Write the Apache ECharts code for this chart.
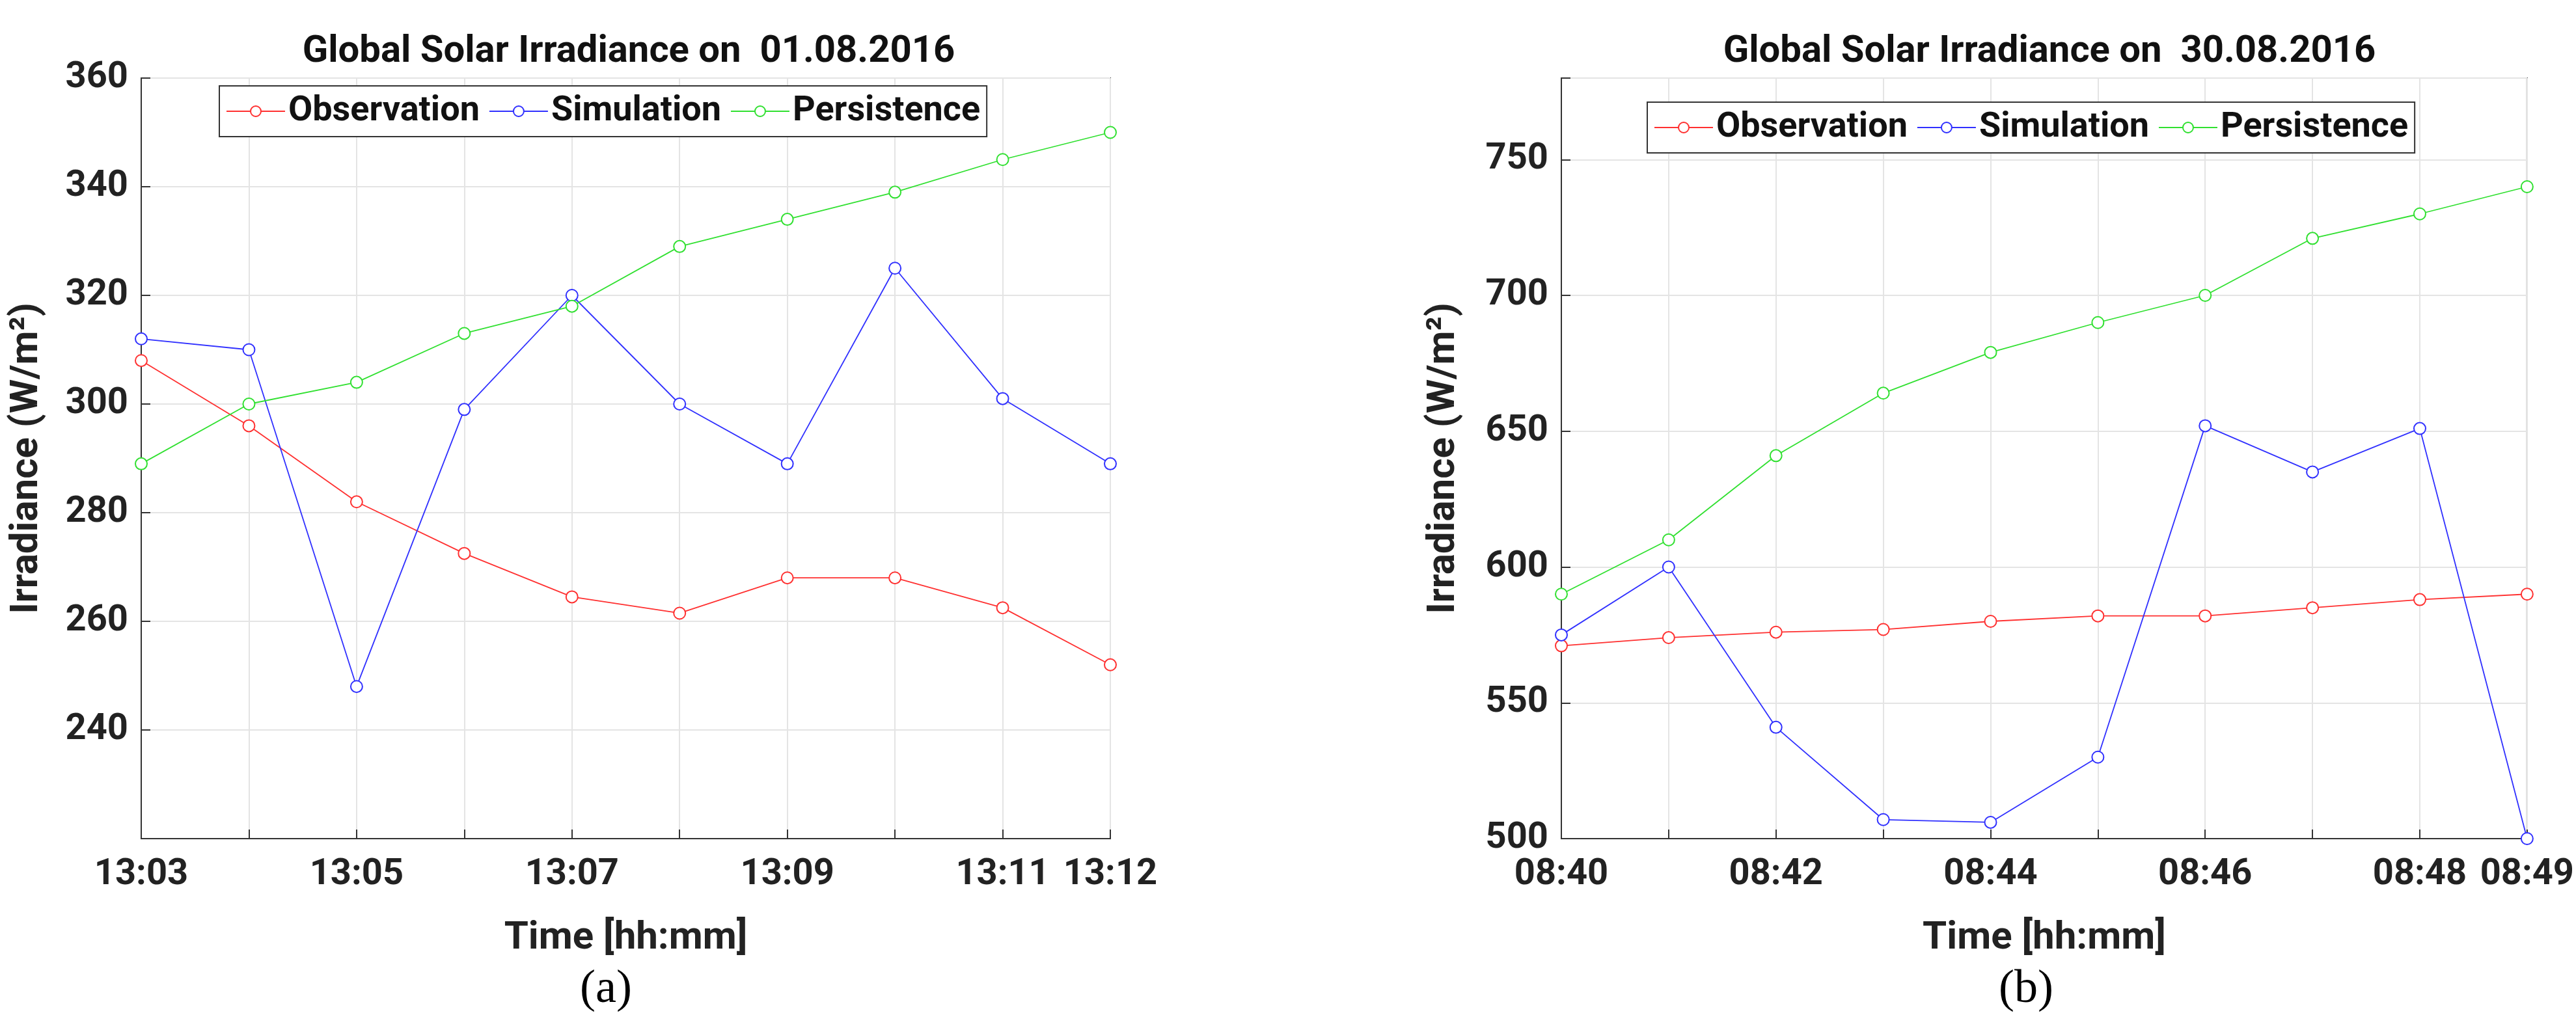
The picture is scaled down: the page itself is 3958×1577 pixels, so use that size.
<!DOCTYPE html>
<html>
<head>
<meta charset="utf-8">
<script src="https://cdn.jsdelivr.net/npm/echarts@6/dist/echarts.min.js"></script>
<style>html,body{margin:0;padding:0;background:#fff}#main{width:3958px;height:1577px}</style>
</head>
<body>
<div id="main"></div>
<script>
// time labels
var timesA = ["13:03","13:04","13:05","13:06","13:07","13:08","13:09","13:10","13:11","13:12"];
var timesB = ["08:40","08:41","08:42","08:43","08:44","08:45","08:46","08:47","08:48","08:49"];
// panel (a) 01.08.2016
var obsA = [308, 296, 282, 272.5, 264.5, 261.5, 268, 268, 262.5, 252];
var simA = [312, 310, 248, 299, 320, 300, 289, 325, 301, 289];
var perA = [289, 300, 304, 313, 318, 329, 334, 339, 345, 350];
// panel (b) 30.08.2016
var obsB = [571, 574, 576, 577, 580, 582, 582, 585, 588, 590];
var simB = [575, 600, 541, 507, 506, 530, 652, 635, 651, 500];
var perB = [590, 610, 641, 664, 679, 690, 700, 721, 730, 740];

var colors = ['#ff3030', '#3030ff', '#30e030'];
var names = ['Observation', 'Simulation', 'Persistence'];
var shownIdx = [0, 2, 4, 6, 8, 9];
var font = 'Roboto, "Liberation Sans", sans-serif';

function xAxis(idx, data){
	return {
		type: 'category', gridIndex: idx, data: data, boundaryGap: false,
		name: 'Time [hh:mm]', nameLocation: 'middle', nameGap: 124,
		nameTextStyle: {fontSize: 60, fontWeight: 'bold', color: '#222', fontFamily: font},
		axisLine: {lineStyle: {color: '#333', width: 2}},
		axisTick: {show: true, inside: true, length: 14, interval: 0, lineStyle: {color: '#333', width: 2}},
		axisLabel: {interval: function(i){ return shownIdx.indexOf(i) >= 0; }, fontSize: 56, fontWeight: 'bold', color: '#222', margin: 28, fontFamily: font},
		splitLine: {show: true, interval: 0, lineStyle: {color: '#e4e4e4', width: 2}}
	};
}
function yAxis(idx, min, max, step, gap, hideMin){
	return {
		type: 'value', gridIndex: idx, min: min, max: max, interval: step,
		name: 'Irradiance (W/m²)', nameLocation: 'middle', nameGap: gap,
		nameTextStyle: {fontSize: 60, fontWeight: 'bold', color: '#222', fontFamily: font},
		axisLine: {show: true, lineStyle: {color: '#333', width: 2}},
		axisTick: {show: true, inside: true, length: 14, lineStyle: {color: '#333', width: 2}},
		axisLabel: {fontSize: 56, fontWeight: 'bold', color: '#222', margin: 20, fontFamily: font,
			formatter: function(v){ if(hideMin && v == min) return ''; return v % step == 0 ? v : ''; }},
		splitLine: {show: true, lineStyle: {color: '#e4e4e4', width: 2}}
	};
}
function series(idx, arrs){
	return arrs.map(function(d, i){
		return {
			name: names[i], type: 'line', xAxisIndex: idx, yAxisIndex: idx, data: d,
			symbol: 'emptyCircle', symbolSize: 18,
			lineStyle: {color: colors[i], width: 1.8},
			itemStyle: {color: colors[i], borderColor: colors[i], borderWidth: 1.8}
		};
	});
}
function legend(left, top, width){
	return {
		left: left, top: top, width: width, itemGap: 14, itemWidth: 90, itemHeight: 20,
		backgroundColor: '#fff', borderColor: '#333', borderWidth: 2, padding: [12, 10, 12, 10],
		textStyle: {fontSize: 54, fontWeight: 'bold', color: '#111', fontFamily: font},
		data: names
	};
}

var chart = echarts.init(document.getElementById('main'));
var s = series(0, [obsA, simA, perA]).concat(series(1, [obsB, simB, perB]));
chart.setOption({
	animation: false,
	backgroundColor: '#fff',
	title: [
		{text: 'Global Solar Irradiance on  01.08.2016', left: 961, top: 46, textAlign: 'center', textStyle: {fontSize: 58, fontWeight: 'bold', color: '#111', fontFamily: font}},
		{text: 'Global Solar Irradiance on  30.08.2016', left: 3144, top: 46, textAlign: 'center', textStyle: {fontSize: 58, fontWeight: 'bold', color: '#111', fontFamily: font}},
		{text: '(a)', left: 926, top: 1480, textAlign: 'center', textStyle: {fontSize: 72, fontWeight: 'normal', color: '#000', fontFamily: '"Liberation Serif", serif'}},
		{text: '(b)', left: 3108, top: 1480, textAlign: 'center', textStyle: {fontSize: 72, fontWeight: 'normal', color: '#000', fontFamily: '"Liberation Serif", serif'}}
	],
	legend: [legend(337, 132, 1226), legend(2531, 157, 1224)],
	grid: [
		{left: 217, width: 1489, top: 120, height: 1169, show: true, borderColor: '#333', borderWidth: 2, backgroundColor: 'transparent'},
		{left: 2399, width: 1490, top: 120, height: 1169, show: true, borderColor: '#333', borderWidth: 2, backgroundColor: 'transparent'}
	],
	xAxis: [xAxis(0, timesA), xAxis(1, timesB)],
	yAxis: [yAxis(0, 220, 360, 20, 145, true), yAxis(1, 500, 780, 50, 150, false)],
	series: s
});
</script>
</body>
</html>
